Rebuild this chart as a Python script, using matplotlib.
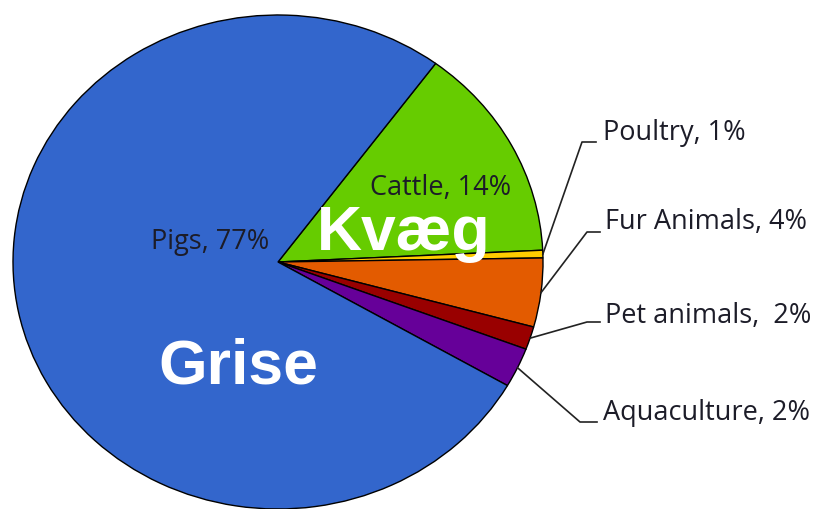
import numpy as np
import matplotlib.pyplot as plt

# shares (labels show the rounded values)
animals = ['Cattle', 'Poultry', 'Fur Animals', 'Pet animals', 'Aquaculture', 'Pigs']
shares = [14.1, 0.5, 4.5, 1.5, 2.6, 76.8]
label_pct = ['14%', '1%', '4%', '2%', '2%', '77%']
colors = ['#66CC00', '#FFCC00', '#E35B00', '#990000', '#660099', '#3366CC']

W, H = 816, 509
CX, CY, RX, RY = 278, 262, 265, 247   # pie centre / radii in pixels


def px(x, y):
    # pixel position (top-left origin) -> data coords of the unit pie
    return (x - CX) / RX, (CY - y) / RY


fig = plt.figure(figsize=(W / 100, H / 100), dpi=100)
ax = fig.add_axes([0, 0, 1, 1])
wedges, _ = ax.pie(shares, colors=colors, startangle=53.5, counterclock=False,
                   wedgeprops=dict(edgecolor='black', linewidth=1.0))
ax.set_aspect('auto')
ax.set_xlim(px(0, 0)[0], px(W, 0)[0])
ax.set_ylim(px(0, H)[1], px(0, 0)[1])
ax.axis('off')

font = 'Open Sans'
tcol = '#1c1c28'
fs = 19.5

# inside labels
ax.text(*px(210, 242), 'Pigs, ' + label_pct[5], ha='center', va='center',
        fontsize=fs, family=font, color=tcol)
ax.text(*px(441, 188), 'Cattle, ' + label_pct[0], ha='center', va='center',
        fontsize=fs, family=font, color=tcol)

# outside labels with leader lines: (knee, line end, text x, text y)
callouts = {
    1: ((582, 142), (596, 142), 603, 133),
    2: ((587, 232), (600, 232), 605, 222),
    3: ((587, 322), (600, 322), 605, 316),
    4: ((580, 422), (597, 422), 603, 413),
}
for i, (knee, end, tx, ty) in callouts.items():
    w = wedges[i]
    mid = np.deg2rad((w.theta1 + w.theta2) / 2)
    xs = [np.cos(mid), px(*knee)[0], px(*end)[0]]
    ys = [np.sin(mid), px(*knee)[1], px(*end)[1]]
    ax.plot(xs, ys, color='#222222', linewidth=1.2, clip_on=False)
    sep = ',  ' if animals[i] == 'Pet animals' else ', '
    ax.text(*px(tx, ty), animals[i] + sep + label_pct[i], ha='left', va='center',
            fontsize=fs, family=font, color=tcol)

# Danish overlay words
ax.text(*px(404, 250), 'Kvæg', ha='center', va='baseline', fontsize=45,
        fontweight='bold', family='Liberation Sans', color='white')
ax.text(*px(158, 383), 'Grise', ha='left', va='baseline', fontsize=45,
        fontweight='bold', family='Liberation Sans', color='white')

fig.savefig('out.png', dpi=100)
